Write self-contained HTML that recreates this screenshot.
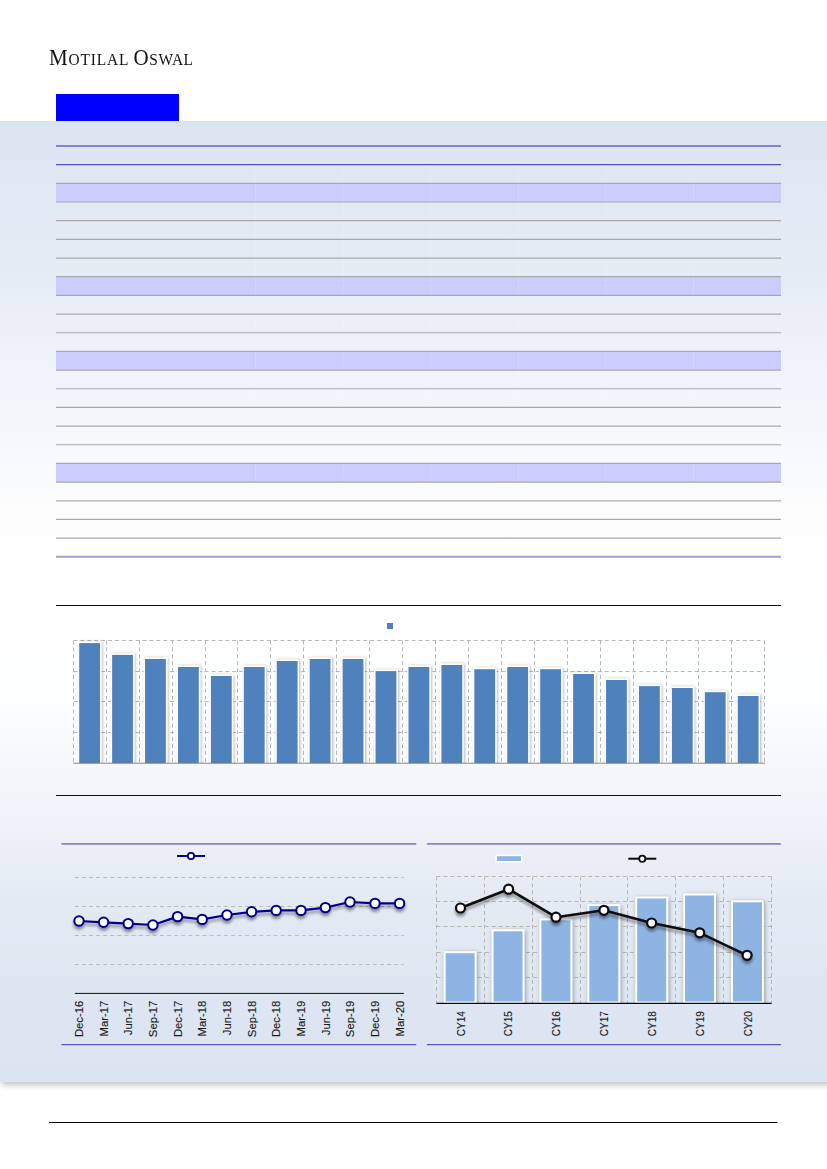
<!DOCTYPE html><html><head><meta charset="utf-8"><title>Motilal Oswal</title>
<style>html,body{margin:0;padding:0;background:#fff;}body{width:827px;height:1169px;position:relative;overflow:hidden;font-family:"Liberation Sans",sans-serif;}
#panel{position:absolute;left:0;top:121px;width:827px;height:961px;background:linear-gradient(to bottom,#dbe5f1 0%,#e6ecf6 16%,#f3f6fb 30%,#fdfdfe 41%,#ffffff 50%,#fdfeff 60%,#f2f5fa 70%,#e4eaf4 81%,#dce5f1 93%,#dbe4f0 100%);}#shw{position:absolute;left:0;top:1082px;width:827px;height:16px;overflow:hidden;}#shw div{position:absolute;left:0;top:-30px;width:840px;height:30px;box-shadow:2px 2px 6px 1px rgba(0,0,0,0.24);}
#logo{position:absolute;left:48.8px;top:42.8px;font-family:"Liberation Serif",serif;color:#111;white-space:nowrap;transform-origin:0 0;transform:scaleX(0.93);letter-spacing:0.6px;line-height:30px;font-size:22.6px;}#logo span{font-size:16.6px;}#logo b{font-weight:normal;letter-spacing:0.9px;}#logo{word-spacing:-1.6px;}
#tag{position:absolute;left:56px;top:94px;width:123px;height:27px;background:#0000ff;}
svg{position:absolute;left:0;top:0;}
.lbl{font-family:"Liberation Sans",sans-serif;fill:#1a1a1a;}
</style></head><body>
<div id="logo"><b>M<span>OTILAL</span></b> O<span>SWAL</span></div>
<div id="panel"></div><div id="shw"><div></div></div><div id="tag"></div>
<svg width="827" height="1169" viewBox="0 0 827 1169">
<defs><filter id="sh" x="-30%" y="-30%" width="160%" height="160%"><feGaussianBlur in="SourceAlpha" stdDeviation="1.7"/><feOffset dx="0.9" dy="0.3"/><feComponentTransfer><feFuncA type="linear" slope="0.30"/></feComponentTransfer><feMerge><feMergeNode/><feMergeNode in="SourceGraphic"/></feMerge></filter>
<filter id="sh2" x="-30%" y="-30%" width="160%" height="160%"><feGaussianBlur in="SourceAlpha" stdDeviation="1.5"/><feOffset dx="0.4" dy="2.8"/><feComponentTransfer><feFuncA type="linear" slope="0.42"/></feComponentTransfer><feMerge><feMergeNode/><feMergeNode in="SourceGraphic"/></feMerge></filter><filter id="sh3" x="-30%" y="-30%" width="160%" height="160%"><feGaussianBlur in="SourceAlpha" stdDeviation="2"/><feOffset dx="1.2" dy="1"/><feComponentTransfer><feFuncA type="linear" slope="0.36"/></feComponentTransfer><feMerge><feMergeNode/><feMergeNode in="SourceGraphic"/></feMerge></filter></defs>
<rect x="56" y="183.35" width="725" height="18.67" fill="#ccccff"/>
<rect x="56" y="276.71" width="725" height="18.67" fill="#ccccff"/>
<rect x="56" y="351.40" width="725" height="18.67" fill="#ccccff"/>
<rect x="56" y="463.44" width="725" height="18.67" fill="#ccccff"/>
<line x1="255.6" y1="164.5" x2="255.6" y2="556.5" stroke="#ffffff" stroke-opacity="0.18" stroke-width="1"/>
<line x1="343.2" y1="164.5" x2="343.2" y2="556.5" stroke="#ffffff" stroke-opacity="0.18" stroke-width="1"/>
<line x1="430.8" y1="164.5" x2="430.8" y2="556.5" stroke="#ffffff" stroke-opacity="0.18" stroke-width="1"/>
<line x1="518.4" y1="164.5" x2="518.4" y2="556.5" stroke="#ffffff" stroke-opacity="0.18" stroke-width="1"/>
<line x1="606.0" y1="164.5" x2="606.0" y2="556.5" stroke="#ffffff" stroke-opacity="0.18" stroke-width="1"/>
<line x1="693.6" y1="164.5" x2="693.6" y2="556.5" stroke="#ffffff" stroke-opacity="0.18" stroke-width="1"/>
<line x1="56" y1="146.00" x2="781" y2="146.00" stroke="#8484d2" stroke-width="2"/>
<line x1="56" y1="164.67" x2="781" y2="164.67" stroke="#5050b0" stroke-width="1.3"/>
<line x1="56" y1="183.35" x2="781" y2="183.35" stroke="#a9a9a9" stroke-width="1.2"/>
<line x1="56" y1="202.02" x2="781" y2="202.02" stroke="#a9a9a9" stroke-width="1.2"/>
<line x1="56" y1="220.69" x2="781" y2="220.69" stroke="#a9a9a9" stroke-width="1.2"/>
<line x1="56" y1="239.36" x2="781" y2="239.36" stroke="#a9a9a9" stroke-width="1.2"/>
<line x1="56" y1="258.04" x2="781" y2="258.04" stroke="#a9a9a9" stroke-width="1.2"/>
<line x1="56" y1="276.71" x2="781" y2="276.71" stroke="#a9a9a9" stroke-width="1.2"/>
<line x1="56" y1="295.38" x2="781" y2="295.38" stroke="#a9a9a9" stroke-width="1.2"/>
<line x1="56" y1="314.05" x2="781" y2="314.05" stroke="#a9a9a9" stroke-width="1.2"/>
<line x1="56" y1="332.73" x2="781" y2="332.73" stroke="#a9a9a9" stroke-width="1.2"/>
<line x1="56" y1="351.40" x2="781" y2="351.40" stroke="#a9a9a9" stroke-width="1.2"/>
<line x1="56" y1="370.07" x2="781" y2="370.07" stroke="#a9a9a9" stroke-width="1.2"/>
<line x1="56" y1="388.75" x2="781" y2="388.75" stroke="#a9a9a9" stroke-width="1.2"/>
<line x1="56" y1="407.42" x2="781" y2="407.42" stroke="#a9a9a9" stroke-width="1.2"/>
<line x1="56" y1="426.09" x2="781" y2="426.09" stroke="#a9a9a9" stroke-width="1.2"/>
<line x1="56" y1="444.76" x2="781" y2="444.76" stroke="#a9a9a9" stroke-width="1.2"/>
<line x1="56" y1="463.44" x2="781" y2="463.44" stroke="#a9a9a9" stroke-width="1.2"/>
<line x1="56" y1="482.11" x2="781" y2="482.11" stroke="#a9a9a9" stroke-width="1.2"/>
<line x1="56" y1="500.78" x2="781" y2="500.78" stroke="#a9a9a9" stroke-width="1.2"/>
<line x1="56" y1="519.45" x2="781" y2="519.45" stroke="#a9a9a9" stroke-width="1.2"/>
<line x1="56" y1="538.13" x2="781" y2="538.13" stroke="#a9a9a9" stroke-width="1.2"/>
<line x1="56" y1="556.80" x2="781" y2="556.80" stroke="#a39fd6" stroke-width="2"/>
<line x1="56" y1="605.5" x2="781" y2="605.5" stroke="#00007f" stroke-width="1.05"/>
<line x1="56" y1="795.5" x2="781" y2="795.5" stroke="#00007f" stroke-width="1.05"/>
<rect x="387" y="623" width="6" height="6" fill="#4f81bd"/>
<rect x="73.3" y="640.4" width="691.5" height="122.80000000000007" fill="#ffffff" fill-opacity="0.55"/>
<path d="M73.5 640.50H764.5 M73.5 671.50H764.5 M73.5 701.50H764.5 M73.5 732.50H764.5 M73.50 640.5V763.2 M106.50 640.5V763.2 M139.50 640.5V763.2 M172.50 640.5V763.2 M205.50 640.5V763.2 M237.50 640.5V763.2 M270.50 640.5V763.2 M303.50 640.5V763.2 M336.50 640.5V763.2 M369.50 640.5V763.2 M402.50 640.5V763.2 M435.50 640.5V763.2 M468.50 640.5V763.2 M501.50 640.5V763.2 M534.50 640.5V763.2 M567.50 640.5V763.2 M600.50 640.5V763.2 M633.50 640.5V763.2 M666.50 640.5V763.2 M698.50 640.5V763.2 M731.50 640.5V763.2 M764.50 640.5V763.2" fill="none" stroke="#b0b0b0" stroke-width="0.9" stroke-dasharray="4 2.9"/>
<clipPath id="c1"><rect x="71.3" y="634.4" width="697.5" height="128.80000000000007"/></clipPath>
<g clip-path="url(#c1)"><g filter="url(#sh)">
<rect x="77.80" y="641.70" width="23.60" height="128.10" fill="#ffffff"/>
<rect x="110.73" y="653.50" width="23.60" height="116.30" fill="#ffffff"/>
<rect x="143.66" y="657.60" width="23.60" height="112.20" fill="#ffffff"/>
<rect x="176.59" y="665.60" width="23.60" height="104.20" fill="#ffffff"/>
<rect x="209.51" y="674.60" width="23.60" height="95.20" fill="#ffffff"/>
<rect x="242.44" y="665.60" width="23.60" height="104.20" fill="#ffffff"/>
<rect x="275.37" y="659.60" width="23.60" height="110.20" fill="#ffffff"/>
<rect x="308.30" y="657.60" width="23.60" height="112.20" fill="#ffffff"/>
<rect x="341.23" y="657.60" width="23.60" height="112.20" fill="#ffffff"/>
<rect x="374.16" y="669.70" width="23.60" height="100.10" fill="#ffffff"/>
<rect x="407.09" y="665.60" width="23.60" height="104.20" fill="#ffffff"/>
<rect x="440.01" y="663.60" width="23.60" height="106.20" fill="#ffffff"/>
<rect x="472.94" y="667.80" width="23.60" height="102.00" fill="#ffffff"/>
<rect x="505.87" y="665.60" width="23.60" height="104.20" fill="#ffffff"/>
<rect x="538.80" y="667.80" width="23.60" height="102.00" fill="#ffffff"/>
<rect x="571.73" y="672.60" width="23.60" height="97.20" fill="#ffffff"/>
<rect x="604.66" y="678.60" width="23.60" height="91.20" fill="#ffffff"/>
<rect x="637.59" y="684.70" width="23.60" height="85.10" fill="#ffffff"/>
<rect x="670.51" y="686.60" width="23.60" height="83.20" fill="#ffffff"/>
<rect x="703.44" y="690.80" width="23.60" height="79.00" fill="#ffffff"/>
<rect x="736.37" y="694.60" width="23.60" height="75.20" fill="#ffffff"/>
</g>
<rect x="79.20" y="643.1" width="20.8" height="123.10" fill="#4f81bd"/>
<rect x="112.13" y="654.9" width="20.8" height="111.30" fill="#4f81bd"/>
<rect x="145.06" y="659" width="20.8" height="107.20" fill="#4f81bd"/>
<rect x="177.99" y="667" width="20.8" height="99.20" fill="#4f81bd"/>
<rect x="210.91" y="676" width="20.8" height="90.20" fill="#4f81bd"/>
<rect x="243.84" y="667" width="20.8" height="99.20" fill="#4f81bd"/>
<rect x="276.77" y="661" width="20.8" height="105.20" fill="#4f81bd"/>
<rect x="309.70" y="659" width="20.8" height="107.20" fill="#4f81bd"/>
<rect x="342.63" y="659" width="20.8" height="107.20" fill="#4f81bd"/>
<rect x="375.56" y="671.1" width="20.8" height="95.10" fill="#4f81bd"/>
<rect x="408.49" y="667" width="20.8" height="99.20" fill="#4f81bd"/>
<rect x="441.41" y="665" width="20.8" height="101.20" fill="#4f81bd"/>
<rect x="474.34" y="669.2" width="20.8" height="97.00" fill="#4f81bd"/>
<rect x="507.27" y="667" width="20.8" height="99.20" fill="#4f81bd"/>
<rect x="540.20" y="669.2" width="20.8" height="97.00" fill="#4f81bd"/>
<rect x="573.13" y="674" width="20.8" height="92.20" fill="#4f81bd"/>
<rect x="606.06" y="680" width="20.8" height="86.20" fill="#4f81bd"/>
<rect x="638.99" y="686.1" width="20.8" height="80.10" fill="#4f81bd"/>
<rect x="671.91" y="688" width="20.8" height="78.20" fill="#4f81bd"/>
<rect x="704.84" y="692.2" width="20.8" height="74.00" fill="#4f81bd"/>
<rect x="737.77" y="696" width="20.8" height="70.20" fill="#4f81bd"/>
</g>
<line x1="73.3" y1="763.2" x2="764.8" y2="763.2" stroke="#868686" stroke-width="1"/>
<line x1="61.5" y1="843.8" x2="416.3" y2="843.8" stroke="#8785d3" stroke-width="1.8"/>
<line x1="61.5" y1="1044.6" x2="416.3" y2="1044.6" stroke="#5a57b6" stroke-width="1.3"/>
<line x1="426.9" y1="843.8" x2="780.9" y2="843.8" stroke="#8785d3" stroke-width="1.8"/>
<line x1="426.9" y1="1044.6" x2="780.9" y2="1044.6" stroke="#5a57b6" stroke-width="1.3"/>
<path d="M74.8 877.5H403.8 M74.8 906.5H403.8 M74.8 935.5H403.8 M74.8 964.5H403.8" fill="none" stroke="#bbbbb8" stroke-width="1" stroke-dasharray="3.9 3.2"/>
<line x1="74.8" y1="993.4" x2="403.8" y2="993.4" stroke="#0c0c0c" stroke-width="1"/>
<g filter="url(#sh2)">
<polyline points="79,921 103.6,922.3 128.2,923.6 152.9,925 177.6,916.6 202.2,919.4 227,915 251.6,911.8 276.2,910.4 301,910.4 325.4,907.6 350,902 375,903.4 399.6,903.4" fill="none" stroke="#00008b" stroke-width="2.2" stroke-linejoin="round"/>
<circle cx="79" cy="921" r="4.7" fill="#fff" stroke="#00008b" stroke-width="2"/>
<circle cx="103.6" cy="922.3" r="4.7" fill="#fff" stroke="#00008b" stroke-width="2"/>
<circle cx="128.2" cy="923.6" r="4.7" fill="#fff" stroke="#00008b" stroke-width="2"/>
<circle cx="152.9" cy="925" r="4.7" fill="#fff" stroke="#00008b" stroke-width="2"/>
<circle cx="177.6" cy="916.6" r="4.7" fill="#fff" stroke="#00008b" stroke-width="2"/>
<circle cx="202.2" cy="919.4" r="4.7" fill="#fff" stroke="#00008b" stroke-width="2"/>
<circle cx="227" cy="915" r="4.7" fill="#fff" stroke="#00008b" stroke-width="2"/>
<circle cx="251.6" cy="911.8" r="4.7" fill="#fff" stroke="#00008b" stroke-width="2"/>
<circle cx="276.2" cy="910.4" r="4.7" fill="#fff" stroke="#00008b" stroke-width="2"/>
<circle cx="301" cy="910.4" r="4.7" fill="#fff" stroke="#00008b" stroke-width="2"/>
<circle cx="325.4" cy="907.6" r="4.7" fill="#fff" stroke="#00008b" stroke-width="2"/>
<circle cx="350" cy="902" r="4.7" fill="#fff" stroke="#00008b" stroke-width="2"/>
<circle cx="375" cy="903.4" r="4.7" fill="#fff" stroke="#00008b" stroke-width="2"/>
<circle cx="399.6" cy="903.4" r="4.7" fill="#fff" stroke="#00008b" stroke-width="2"/>
</g>
<line x1="177" y1="856" x2="205" y2="856" stroke="#00008b" stroke-width="2"/><circle cx="191" cy="856" r="3.2" fill="#fff" stroke="#00008b" stroke-width="1.8"/>
<text class="lbl" font-size="11.3" stroke="#1a1a1a" stroke-width="0.12" text-anchor="end" transform="translate(83.2,1000.7) rotate(-90)">Dec-16</text>
<text class="lbl" font-size="11.3" stroke="#1a1a1a" stroke-width="0.12" text-anchor="end" transform="translate(107.8,1000.7) rotate(-90)">Mar-17</text>
<text class="lbl" font-size="11.3" stroke="#1a1a1a" stroke-width="0.12" text-anchor="end" transform="translate(132.4,1000.7) rotate(-90)">Jun-17</text>
<text class="lbl" font-size="11.3" stroke="#1a1a1a" stroke-width="0.12" text-anchor="end" transform="translate(157.1,1000.7) rotate(-90)">Sep-17</text>
<text class="lbl" font-size="11.3" stroke="#1a1a1a" stroke-width="0.12" text-anchor="end" transform="translate(181.8,1000.7) rotate(-90)">Dec-17</text>
<text class="lbl" font-size="11.3" stroke="#1a1a1a" stroke-width="0.12" text-anchor="end" transform="translate(206.4,1000.7) rotate(-90)">Mar-18</text>
<text class="lbl" font-size="11.3" stroke="#1a1a1a" stroke-width="0.12" text-anchor="end" transform="translate(231.2,1000.7) rotate(-90)">Jun-18</text>
<text class="lbl" font-size="11.3" stroke="#1a1a1a" stroke-width="0.12" text-anchor="end" transform="translate(255.8,1000.7) rotate(-90)">Sep-18</text>
<text class="lbl" font-size="11.3" stroke="#1a1a1a" stroke-width="0.12" text-anchor="end" transform="translate(280.4,1000.7) rotate(-90)">Dec-18</text>
<text class="lbl" font-size="11.3" stroke="#1a1a1a" stroke-width="0.12" text-anchor="end" transform="translate(305.2,1000.7) rotate(-90)">Mar-19</text>
<text class="lbl" font-size="11.3" stroke="#1a1a1a" stroke-width="0.12" text-anchor="end" transform="translate(329.6,1000.7) rotate(-90)">Jun-19</text>
<text class="lbl" font-size="11.3" stroke="#1a1a1a" stroke-width="0.12" text-anchor="end" transform="translate(354.2,1000.7) rotate(-90)">Sep-19</text>
<text class="lbl" font-size="11.3" stroke="#1a1a1a" stroke-width="0.12" text-anchor="end" transform="translate(379.2,1000.7) rotate(-90)">Dec-19</text>
<text class="lbl" font-size="11.3" stroke="#1a1a1a" stroke-width="0.12" text-anchor="end" transform="translate(403.8,1000.7) rotate(-90)">Mar-20</text>
<path d="M436.5 876.50H771.5 M436.5 901.50H771.5 M436.5 926.50H771.5 M436.5 952.50H771.5 M436.5 977.50H771.5 M436.50 876.5V1003.4 M484.50 876.5V1003.4 M532.50 876.5V1003.4 M580.50 876.5V1003.4 M627.50 876.5V1003.4 M675.50 876.5V1003.4 M723.50 876.5V1003.4 M771.50 876.5V1003.4" fill="none" stroke="#b3b0aa" stroke-width="0.9" stroke-dasharray="4 2.9"/>
<clipPath id="c2"><rect x="432.4" y="856.2" width="347.20000000000005" height="147.19999999999993"/></clipPath>
<g clip-path="url(#c2)"><g filter="url(#sh3)">
<rect x="443.74" y="951.30" width="32.8" height="63.10" fill="#ffffff"/>
<rect x="491.63" y="929.40" width="32.8" height="85.00" fill="#ffffff"/>
<rect x="539.51" y="918.50" width="32.8" height="95.90" fill="#ffffff"/>
<rect x="587.40" y="904.20" width="32.8" height="110.20" fill="#ffffff"/>
<rect x="635.29" y="896.60" width="32.8" height="117.80" fill="#ffffff"/>
<rect x="683.17" y="893.60" width="32.8" height="120.80" fill="#ffffff"/>
<rect x="731.06" y="900.40" width="32.8" height="114.00" fill="#ffffff"/>
</g>
<rect x="445.64" y="953.20" width="29.0" height="48.30" fill="#8eb4e3"/>
<rect x="493.53" y="931.30" width="29.0" height="70.20" fill="#8eb4e3"/>
<rect x="541.41" y="920.40" width="29.0" height="81.10" fill="#8eb4e3"/>
<rect x="589.30" y="906.10" width="29.0" height="95.40" fill="#8eb4e3"/>
<rect x="637.19" y="898.50" width="29.0" height="103.00" fill="#8eb4e3"/>
<rect x="685.07" y="895.50" width="29.0" height="106.00" fill="#8eb4e3"/>
<rect x="732.96" y="902.30" width="29.0" height="99.20" fill="#8eb4e3"/>
</g>
<line x1="436.4" y1="1003.4" x2="771.6" y2="1003.4" stroke="#0c0c0c" stroke-width="1.3"/>
<g filter="url(#sh2)">
<polyline points="460.5,908 508.6,889.2 556,917.2 603.9,910.3 651.6,923 699.7,932.8 747.1,955.3" fill="none" stroke="#0a0a0a" stroke-width="2.6" stroke-linejoin="round"/>
<circle cx="460.5" cy="908" r="4.5" fill="#fff" stroke="#0a0a0a" stroke-width="2.2"/>
<circle cx="508.6" cy="889.2" r="4.5" fill="#fff" stroke="#0a0a0a" stroke-width="2.2"/>
<circle cx="556" cy="917.2" r="4.5" fill="#fff" stroke="#0a0a0a" stroke-width="2.2"/>
<circle cx="603.9" cy="910.3" r="4.5" fill="#fff" stroke="#0a0a0a" stroke-width="2.2"/>
<circle cx="651.6" cy="923" r="4.5" fill="#fff" stroke="#0a0a0a" stroke-width="2.2"/>
<circle cx="699.7" cy="932.8" r="4.5" fill="#fff" stroke="#0a0a0a" stroke-width="2.2"/>
<circle cx="747.1" cy="955.3" r="4.5" fill="#fff" stroke="#0a0a0a" stroke-width="2.2"/>
</g>
<rect x="496.2" y="855.4" width="25.6" height="6.4" fill="#8eb4e3" stroke="#fff" stroke-width="1.6"/>
<line x1="628.3" y1="858.7" x2="656.3" y2="858.7" stroke="#0a0a0a" stroke-width="2"/><circle cx="642.3" cy="858.7" r="3.1" fill="#fff" stroke="#0a0a0a" stroke-width="1.8"/>
<text class="lbl" font-size="10" stroke="#1a1a1a" stroke-width="0.12" text-anchor="end" transform="translate(464.5,1011.2) rotate(-90)">CY14</text>
<text class="lbl" font-size="10" stroke="#1a1a1a" stroke-width="0.12" text-anchor="end" transform="translate(512.4,1011.2) rotate(-90)">CY15</text>
<text class="lbl" font-size="10" stroke="#1a1a1a" stroke-width="0.12" text-anchor="end" transform="translate(560.3,1011.2) rotate(-90)">CY16</text>
<text class="lbl" font-size="10" stroke="#1a1a1a" stroke-width="0.12" text-anchor="end" transform="translate(608.2,1011.2) rotate(-90)">CY17</text>
<text class="lbl" font-size="10" stroke="#1a1a1a" stroke-width="0.12" text-anchor="end" transform="translate(656.1,1011.2) rotate(-90)">CY18</text>
<text class="lbl" font-size="10" stroke="#1a1a1a" stroke-width="0.12" text-anchor="end" transform="translate(704.0,1011.2) rotate(-90)">CY19</text>
<text class="lbl" font-size="10" stroke="#1a1a1a" stroke-width="0.12" text-anchor="end" transform="translate(751.9,1011.2) rotate(-90)">CY20</text>
<line x1="49" y1="1122.5" x2="777.5" y2="1122.5" stroke="#000" stroke-width="1.2"/>
</svg></body></html>
